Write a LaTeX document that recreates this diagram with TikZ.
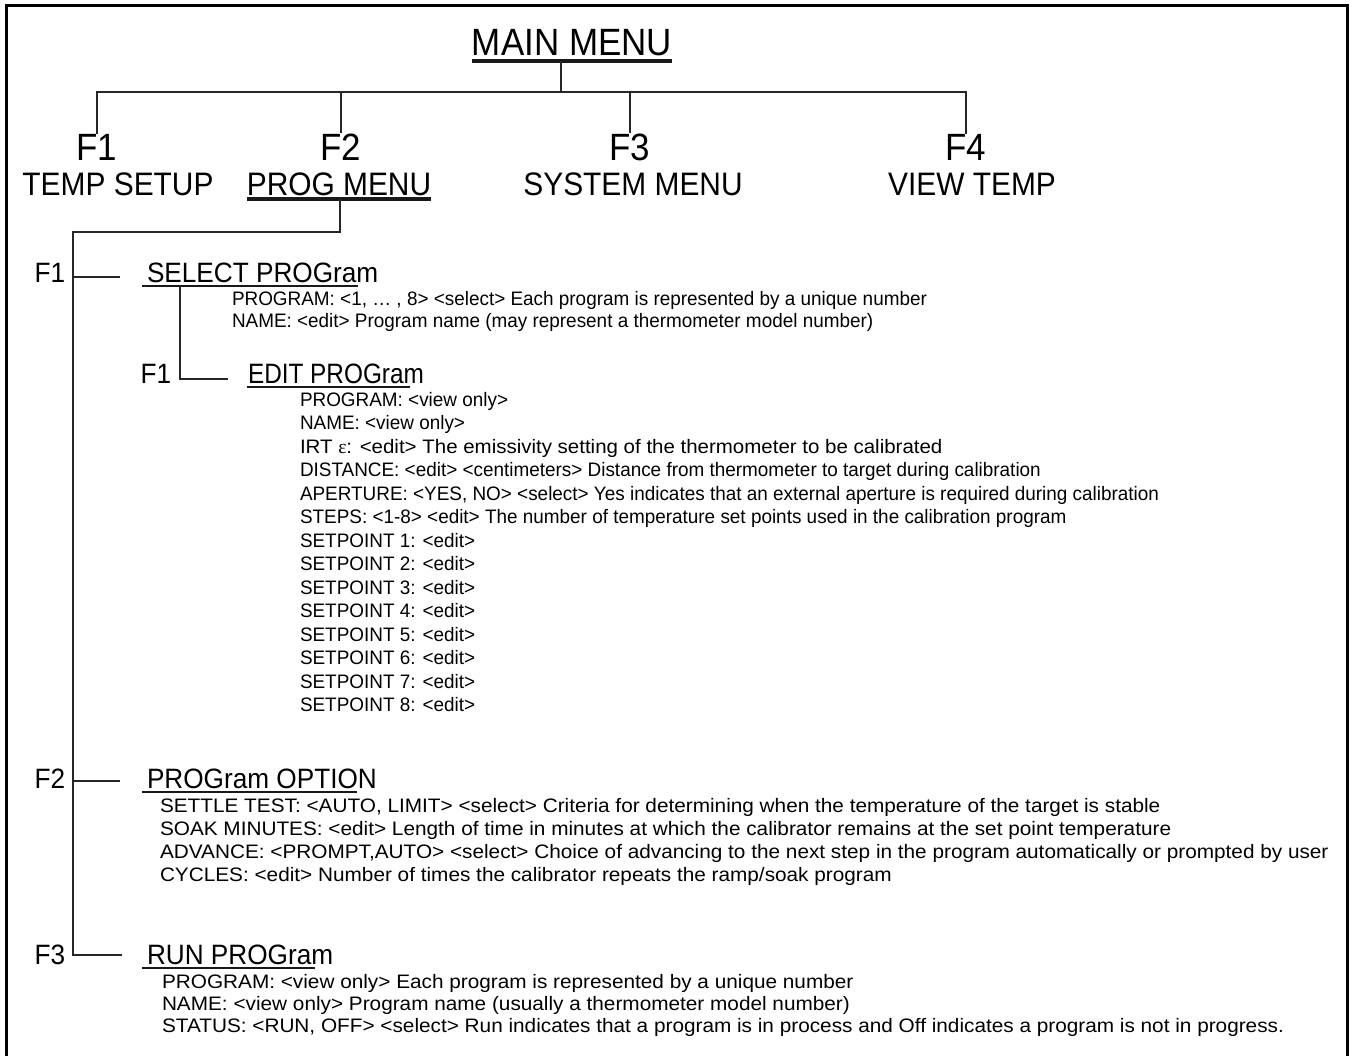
\documentclass[tikz,border=0pt]{standalone}
\usepackage{fontspec}
\setmainfont{Liberation Sans}
\newfontfamily\hdfont{Liberation Sans}[FakeStretch=0.92]
\newfontfamily\secfont{Liberation Sans}[FakeStretch=0.935]
\newfontfamily\edfont{Liberation Sans}[FakeStretch=0.87]
\newfontfamily\nfont{Liberation Sans}[FakeStretch=0.97]
\newfontfamily\nwfont{Liberation Sans}[FakeStretch=1.05]
\newfontfamily\wfont{Liberation Sans}[FakeStretch=1.065]
\newfontfamily\grfont{Liberation Serif}
\begin{document}
\begin{tikzpicture}[x=1pt,y=-1pt,
  txt/.style={inner sep=0pt, outer sep=0pt, anchor=base west, text=black},
  big/.style={txt, anchor=base, font=\hdfont\fontsize{38}{40}\selectfont},
  sub/.style={txt, anchor=base, font=\hdfont\fontsize{32.5}{34}\selectfont},
  sec/.style={txt, font=\secfont\fontsize{28}{30}\selectfont},
  itemA/.style={txt, font=\nfont\fontsize{19.5}{22}\selectfont},
  itemB/.style={txt, font=\wfont\fontsize{19.5}{22}\selectfont},
  conn/.style={line width=1.8pt, draw=black!85},
  ulbig/.style={line width=3.5pt, draw=black!90},
  ulsec/.style={line width=2.6pt, draw=black!90},
  frame/.style={line width=3pt, draw=black}]
\useasboundingbox (0,0) rectangle (1354,1055);
\draw[frame] (6,1056) -- (6,5) -- (1347,5) -- (1347,1056);

% ---- top level
\node[big] (mm) at (572,55) {MAIN MENU};
\draw[ulbig] ([yshift=-6pt]mm.base west) -- ([yshift=-6pt]mm.base east);
\node[big] (f1) at (97,160) {F1};
\node[big] (f2) at (341,160) {F2};
\node[big] (f3) at (630,160) {F3};
\node[big] (f4) at (966,160) {F4};
\node[sub] (t1) at (118,195) {TEMP SETUP};
\node[sub] (t2) at (339,195) {PROG MENU};
\node[sub] (t3) at (633,195) {SYSTEM MENU};
\node[sub] (t4) at (972,195) {VIEW TEMP};
\draw[ulbig] ([yshift=-4pt]t2.base west) -- ([yshift=-4pt]t2.base east);

\coordinate (mmdrop) at (561,61);
\coordinate (bus) at (561,92);
\draw[conn] (mmdrop) -- (bus);
\draw[conn] (f1.north) |- (bus) -| (f4.north);
\draw[conn] (f2.north) -- (f2.north |- bus);
\draw[conn] (f3.north) -- (f3.north |- bus);

% ---- program menu tree
\coordinate (pmdrop) at (340,199);
\coordinate (trunktop) at (73,232);
\coordinate (br1) at (73,277);
\coordinate (br2) at (73,781);
\coordinate (br3) at (73,955);
\draw[conn] (pmdrop) -- (pmdrop |- trunktop) -- (trunktop) -- (br3) -- (122,955);
\draw[conn] (br1) -- (120,277);
\draw[conn] (br2) -- (120,781);

\node[sec, anchor=base] (lf1) at (50,282) {F1};
\node[sec] (sel) at (147,282) {SELECT PROGram};
\draw[ulsec] ([xshift=-5pt,yshift=-4pt]sel.base west) -- ([xshift=-20pt,yshift=-4pt]sel.base east);
\node[itemA] (s1) at (232,305) {PROGRAM: <1, … , 8> <select> Each program is represented by a unique number};
\node[itemA] (s2) at (232,327) {NAME: <edit> Program name (may represent a thermometer model number)};

\coordinate (seldrop) at (180,286);
\coordinate (selcorner) at (180,379);
\draw[conn] (seldrop) -- (selcorner) -- (228,379);
\node[sec, anchor=base] (lf1b) at (156,383) {F1};
\node[sec, font=\edfont\fontsize{28}{30}\selectfont] (edit) at (248,383) {EDIT PROGram};
\draw[ulsec] ([xshift=-1pt,yshift=-4pt]edit.base west) -- ([xshift=-14pt,yshift=-4pt]edit.base east);

\foreach \t [count=\i from 0] in {%
  {PROGRAM: <view only>},
  {NAME: <view only>},
  {\nwfont IRT {\grfont ε}: <edit> The emissivity setting of the thermometer to be calibrated},
  {DISTANCE: <edit> <centimeters> Distance from thermometer to target during calibration},
  {APERTURE: <YES, NO> <select> Yes indicates that an external aperture is required during calibration},
  {STEPS: <1-8> <edit> The number of temperature set points used in the calibration program},
  {SETPOINT 1: <edit>},
  {SETPOINT 2: <edit>},
  {SETPOINT 3: <edit>},
  {SETPOINT 4: <edit>},
  {SETPOINT 5: <edit>},
  {SETPOINT 6: <edit>},
  {SETPOINT 7: <edit>},
  {SETPOINT 8: <edit>}}
  \node[itemA] (e\i) at (300,406+23.5*\i) {\t};

\node[sec, anchor=base] (lf2) at (50,788) {F2};
\node[sec] (opt) at (147,788) {PROGram OPTION};
\draw[ulsec] ([xshift=-5pt,yshift=-4pt]opt.base west) -- ([xshift=-20pt,yshift=-4pt]opt.base east);
\node[itemB] (o1) at (160,812) {SETTLE TEST: <AUTO, LIMIT> <select> Criteria for determining when the temperature of the target is stable};
\node[itemB] (o2) at (160,835) {SOAK MINUTES: <edit> Length of time in minutes at which the calibrator remains at the set point temperature};
\node[itemB] (o3) at (160,858) {ADVANCE: <PROMPT,AUTO> <select> Choice of advancing to the next step in the program automatically or prompted by user};
\node[itemB] (o4) at (160,881) {CYCLES: <edit> Number of times the calibrator repeats the ramp/soak program};

\node[sec, anchor=base] (lf3) at (50,964) {F3};
\node[sec] (run) at (147,964) {RUN PROGram};
\draw[ulsec] ([xshift=-5pt,yshift=-4pt]run.base west) -- ([xshift=-18pt,yshift=-4pt]run.base east);
\node[itemB] (r1) at (162,988) {PROGRAM: <view only> Each program is represented by a unique number};
\node[itemB] (r2) at (162,1010) {NAME: <view only> Program name (usually a thermometer model number)};
\node[itemB] (r3) at (162,1032) {STATUS: <RUN, OFF> <select> Run indicates that a program is in process and Off indicates a program is not in progress.};
\end{tikzpicture}
\end{document}
